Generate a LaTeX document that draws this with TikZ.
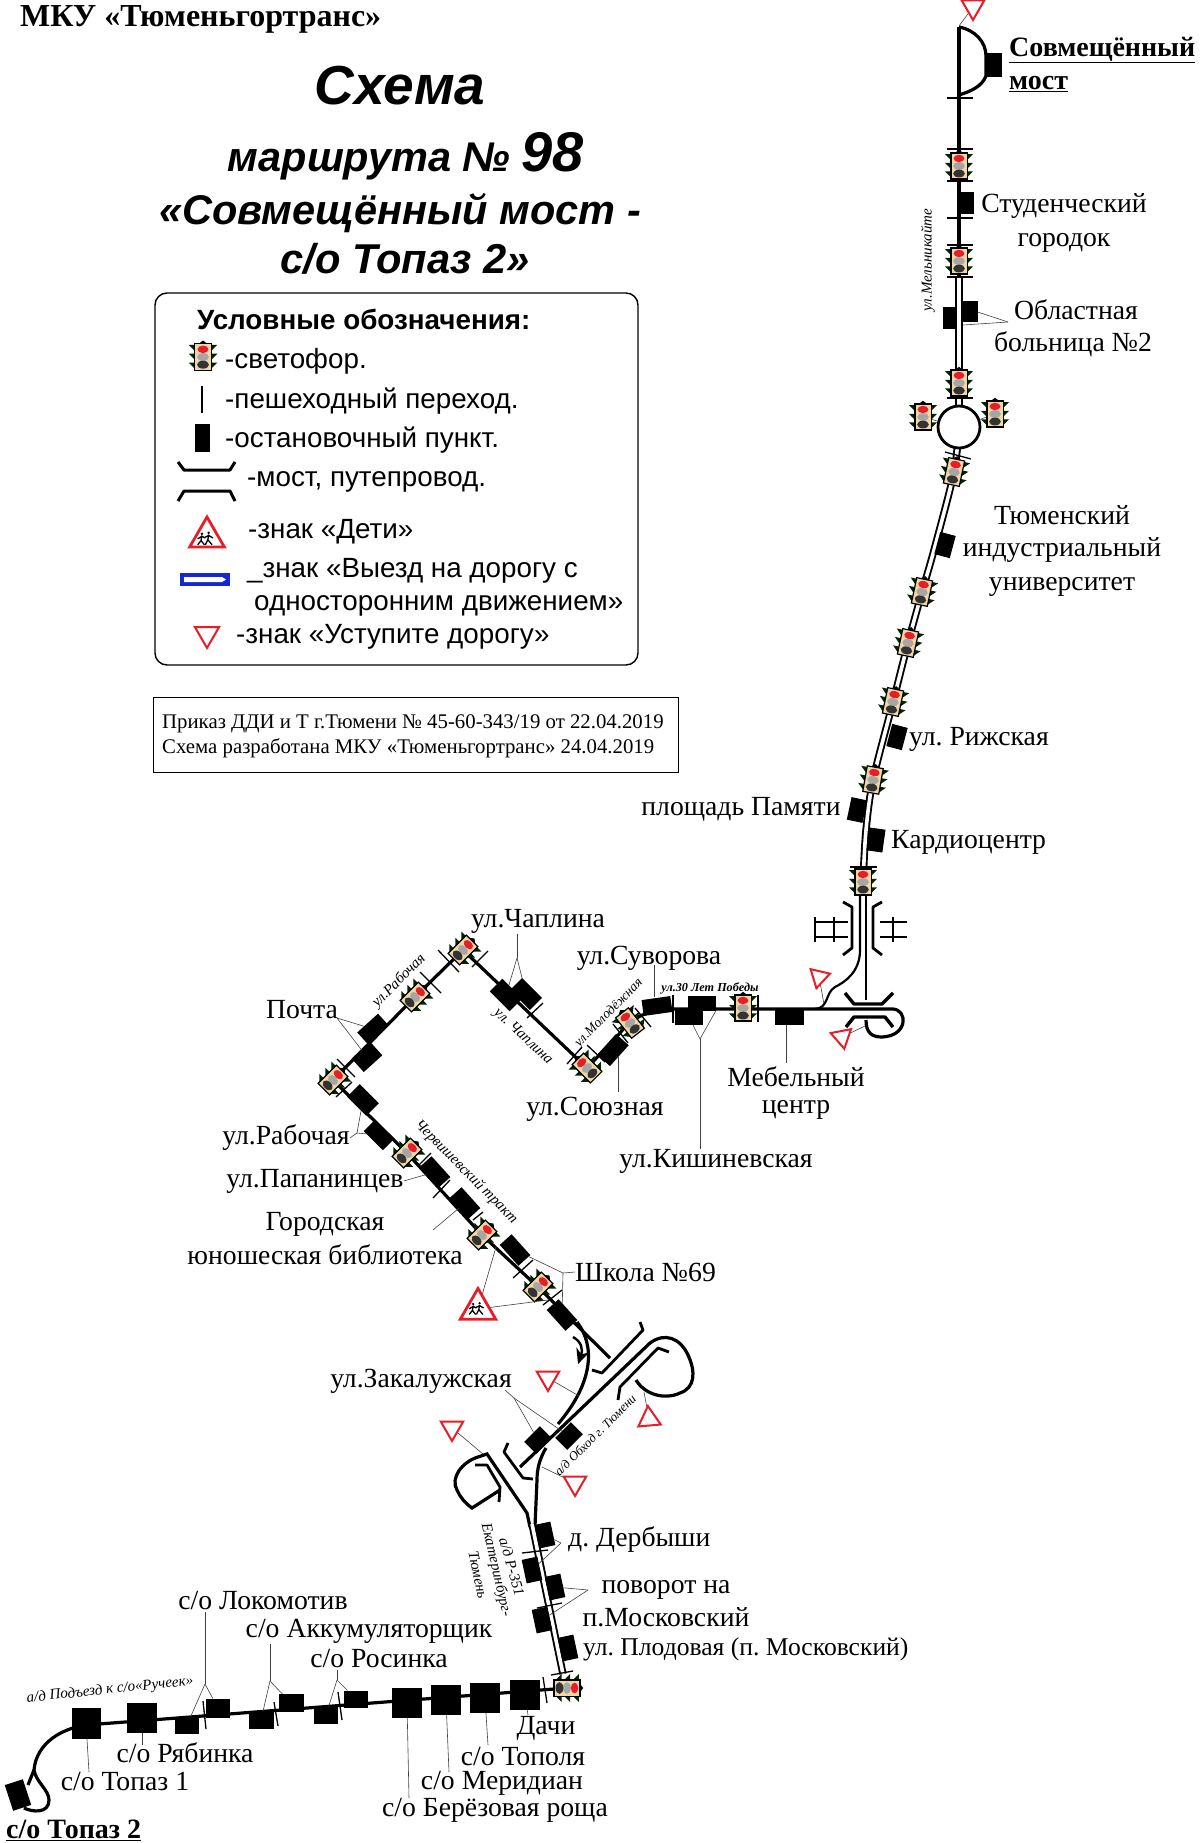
\documentclass[tikz,border=0pt]{standalone}
\usepackage{fontspec}
\setmainfont{Liberation Serif}
\newfontfamily\legendfont{Liberation Sans}
\frenchspacing
\usetikzlibrary{shapes.geometric, arrows.meta}
\definecolor{lampbody}{RGB}{240,215,165}
\definecolor{signred}{RGB}{230,30,40}
\definecolor{signblue}{RGB}{20,40,210}
\tikzstyle{road}=[line width=3.2pt]
\tikzstyle{thinroad}=[line width=2.2pt]
\tikzstyle{dblroad}=[line width=1.9pt, double, double distance=3.6pt]
\tikzstyle{brk}=[line width=2.8pt, line join=round]
\tikzstyle{tick}=[line width=1.3pt]
\tikzstyle{leader}=[line width=.6pt, black!75]
\tikzstyle{stopbox}=[fill=black, inner sep=0pt, outer sep=0pt]
\tikzstyle{lbl}=[inner sep=0pt, font=\fontsize{27.7}{30}\selectfont]
\tikzstyle{strt}=[inner sep=0pt, font=\itshape\fontsize{15}{15}\selectfont]
\tikzstyle{leg}=[inner sep=0pt, anchor=west, font=\legendfont\fontsize{27.8}{30}\selectfont]
\tikzstyle{yieldsign}=[regular polygon, regular polygon sides=3, draw=signred, fill=white, line width=2pt, inner sep=0pt, minimum size=26pt]
\tikzstyle{kidsign}=[regular polygon, regular polygon sides=3, draw=signred, fill=white, line width=2.8pt, inner sep=0pt, minimum size=40pt]
\tikzset{
  tlight/.pic={
    \fill[black!85!green] (-13,-11) -- (-6,-11) -- (-6,-4) -- cycle (13,-11) -- (6,-11) -- (6,-4) -- cycle
      (-13,-3) -- (-6,-3) -- (-6,4) -- cycle (13,-3) -- (6,-3) -- (6,4) -- cycle
      (-13,5) -- (-6,5) -- (-6,12) -- cycle (13,5) -- (6,5) -- (6,12) -- cycle;
    \draw[line width=1.2pt, fill=lampbody] (-7.5,-12) rectangle (7.5,12);
    \fill[black] (-4,-12) -- (0,-15) -- (4,-12) -- cycle;
    \fill[signred] (0,-7) ellipse (5 and 3.4);
    \fill[black!35] (0,0) ellipse (5.4 and 3.6);
    \fill[black!80] (0,7) ellipse (5.4 and 3.6);
  },
  kidfig/.pic={
    \fill (-6,-5) circle (1.6) (2,-6) circle (1.6);
    \draw[line width=1.3pt] (-6,-3) -- (-7,3) -- (-11,8) (-7,3) -- (-3,8) (-6,-2) -- (-11,1) (-6,-2) -- (-2,0)
      (2,-4) -- (1,2) -- (-2,8) (1,2) -- (6,8) (2,-3) -- (-2,-1) (2,-3) -- (7,0);
  }
}
\begin{document}
\begin{tikzpicture}[x=1pt, y=-1pt]
\useasboundingbox (0,0) rectangle (1200,1843);
% traffic lights
\foreach \nm/\px/\py in {ltA/959/166, ltB/959/261, ltC/959/383, ltE/923/417, ltF/995/414, ltG/954/472, ltH/922/592, ltI/908/643, ltJ/893/702, ltK/873/780, ltL/863/882}
  \coordinate (\nm) at (\px,\py);
\foreach \nm/\px/\py in {ltM/743/1008, ltN/630/1023, ltO/587/1068, ltP/463/950, ltQ/415/997, ltR/333/1080, ltS/407/1153, ltT/482/1235, ltU/538/1287, ltV/567/1688}
  \coordinate (\nm) at (\px,\py);
% roads
\draw[road] (959,27) -- (ltA) -- (ltB) -- (959,277);
\draw[road] (959,27) .. controls (975,30) and (986,42) .. (986,56) -- (986,76) .. controls (982,86) and (972,91) .. (959,95);
\draw[dblroad] (959,277) -- (959,425);
\draw[dblroad] plot[smooth, tension=.5] coordinates {(959,425) (ltG) (934,550) (ltH) (ltI) (ltJ) (ltK) (866,830) (ltL) (863,892)};
\draw[thinroad] (860,885) -- (860,950) .. controls (860,972) and (845,982) .. (835,987) .. controls (825,993) and (829,1008) .. (815,1009);
\draw[thinroad] (866,885) -- (866,1000);
\draw[road] (ltO) -- (620,1033) .. controls (630,1020) and (645,1010) .. (670,1009) -- (893,1009) .. controls (908,1010) and (908,1036) .. (882,1037) .. controls (872,1037) and (866,1033) .. (866,1020);
\draw[road] (ltO) -- (ltP) -- (ltQ) -- (ltR) -- (ltS) -- (ltT) -- (ltU) -- (610,1358);
\draw[road] (577,1322) .. controls (595,1345) and (594,1382) .. (558,1424);
\draw[road] (546,1448) .. controls (540,1458) and (537,1468) .. (537,1480) -- (535,1526);
\draw[road] (520,1467) -- (650,1343) .. controls (665,1332) and (680,1338) .. (688,1355) .. controls (696,1372) and (695,1388) .. (680,1393) .. controls (665,1400) and (645,1395) .. (636,1380);
\draw[road] (530,1527) -- (527,1513) -- (487,1454) -- (478,1457) .. controls (462,1462) and (450,1478) .. (457,1490) .. controls (460,1497) and (465,1503) .. (472,1508) -- (500,1490);
\draw[dblroad] (532,1524) -- (563,1674);
\draw[road] (ltV) -- (99,1724) .. controls (60,1725) and (36,1745) .. (34,1770) .. controls (36,1782) and (49,1790) .. (49,1800) .. controls (49,1814) and (32,1812) .. (24,1808);
\draw[road] (34,1770) -- (28,1785);
\node[circle, draw, fill=white, line width=2.8pt, minimum size=42pt, inner sep=0pt] (krug) at (959,427) {};
\draw[leader] (krug) -- (ltE);
\draw[leader] (krug) -- (ltF);
% overpass marks
\draw[brk] (843,902) -- (852,907) -- (852,948) -- (843,955);
\draw[brk] (882,902) -- (873,907) -- (873,948) -- (882,955);
\draw[brk] (815,917) -- (815,942) (815,922) -- (848,922) (815,937) -- (848,937) (834,917) -- (834,942);
\draw[brk] (880,922) -- (907,922) (880,937) -- (907,937) (893,917) -- (893,942);
\draw[brk, line width=3.4pt] (845,993) -- (854,1004) -- (882,1004) -- (893,993);
\draw[brk, line width=3.4pt] (846,1027) -- (854,1017) -- (885,1017) -- (893,1027);
\draw[brk] (640,1322) -- (643,1330) -- (602,1373) -- (592,1370);
\draw[brk] (669,1352) -- (658,1348) -- (620,1387) -- (618,1400);
\draw[brk] (508,1443) -- (504,1452) -- (523,1478) -- (533,1479);
\draw[brk] (475,1465) -- (487,1465) -- (500,1487) -- (499,1502);
% pedestrian crossings
\foreach \xa/\ya/\xb/\yb in {947/98/973/98, 947/149/973/149, 947/181/973/181, 947/218/973/218, 947/245/973/245, 947/277/973/277, 947/398/973/398, 945/452/971/459,
  850/867/877/867, 673/995/673/1023, 758/995/758/1022, 438/950/459/972, 472/967/488/951, 420/972/441/993, 527/1018/543/1003,
  567/1064/582/1047, 587/1045/605/1062, 613/1024/628/1043, 635/1008/651/1027, 337/1059/355/1077, 336/1097/352/1082, 419/1165/431/1153,
  433/1198/450/1180, 473/1220/483/1212, 513/1278/533/1260, 543/1305/562/1290, 522/1553/548/1550, 537/1608/562/1603, 551/1675/573/1671,
  203/1701/206/1729, 274/1702/278/1726, 338/1692/342/1720, 543/1677/547/1703}
  \draw[tick] (\xa,\ya) -- (\xb,\yb);
% stops
\foreach \nm/\px/\py/\w/\h/\r in {stTop/993/65/17/24/0, stStud/966/203/16/22/0, stOblA/950/318/14/21/0, stOblB/970/312/15/21/0,
  stTiu/945/545/16/23/-15, stRiga/897/737/16/23/-15, stPam/857/810/16/23/-12, stKard/876/840/16/23/-8, stMeb/789/1017/29/15/0,
  stSuv/657/1006/29/16/8, stKishA/689/1017/28/16/0, stKishB/702/1003/28/15/0, stSoyuz/613/1050/28/17/48,
  stChapA/506/995/28/18/-45, stChapB/526/994/28/17/-45, stPochA/373/1029/28/16/42, stPochB/367/1057/25/18/42,
  stRabA/363/1100/27/18/-45, stRabB/379/1135/27/16/-45, stPap/435/1172/28/16/-48, stBib/465/1203/28/16/-48,
  stSchA/515/1250/28/16/-48, stSchB/562/1315/28/16/-48, stZakA/538/1440/22/17/45, stZakB/569/1436/22/17/45,
  stDerb/545/1535/16/24/12, stPovA/532/1570/16/24/12, stPovB/555/1587/16/24/12, stPovC/542/1620/16/24/12, stPlod/568/1648/16/24/12,
  stDach/525/1695/30/30/0, stTop/485/1698/30/30/0, stMer/446/1700/30/30/0, stBer/407/1703/30/30/0,
  stRosA/326/1715/24/17/0, stRosB/356/1699/24/17/0, stAkkA/261/1720/25/17/0, stAkkB/291/1703/25/18/0,
  stLokA/187/1725/24/17/0, stLokB/218/1708/24/19/0, stRyab/142/1718/30/30/0, stTopA/86/1723/29/31/0, stTopB/18/1795/19/27/18}
  \node[stopbox, minimum width=\w, minimum height=\h, rotate=\r] (\nm) at (\px,\py) {};
% lights on top of the road
\foreach \nm/\r in {ltA/0, ltB/0, ltC/0, ltE/0, ltF/0, ltG/-12, ltH/-12, ltI/-12, ltJ/-12, ltK/-10, ltL/0, ltM/0, ltN/38, ltO/45, ltP/-45, ltQ/-45, ltR/-45, ltS/-45, ltT/-45, ltU/-45, ltV/-90}
  \pic[rotate=\r, scale=1.08] at (\nm) {tlight};
% heading
\node[inner sep=0pt, anchor=west, font=\bfseries\fontsize{32}{32}\selectfont] (org) at (20,19) {МКУ «Тюменьгортранс»};
\node[inner sep=0pt, font=\legendfont\bfseries\itshape\fontsize{55}{55}\selectfont] (ttlA) at (400,86) {Схема};
\node[inner sep=0pt, font=\legendfont\bfseries\itshape\fontsize{41.5}{41}\selectfont] (ttlB) at (406,156) {маршрута № {\fontsize{56}{56}\selectfont 98}};
\node[inner sep=0pt, font=\legendfont\bfseries\itshape\fontsize{41.5}{41}\selectfont] (ttlC) at (400,213) {«Совмещённый мост -};
\node[inner sep=0pt, font=\legendfont\bfseries\itshape\fontsize{41.7}{41}\selectfont] (ttlD) at (405,259) {с/о Топаз 2»};
% legend
\node[draw, rounded corners=12pt, line width=1.4pt, minimum width=483, minimum height=372, inner sep=0pt] (lgd) at (396.5,479) {};
\node[leg, font=\legendfont\bfseries\fontsize{27.8}{30}\selectfont] (lgA) at (197,319) {Условные обозначения:};
\coordinate (lgLt) at (203,357);
\pic[scale=1.1] at (lgLt) {tlight};
\node[leg] (lgB) at (225,361) {-светофор.};
\node[minimum width=1.4pt, minimum height=27pt, fill=black, inner sep=0pt] (lgPed) at (202,399) {};
\node[leg] (lgC) at (225,401) {-пешеходный переход.};
\node[stopbox, minimum width=15, minimum height=28] (lgStop) at (202,438) {};
\node[leg] (lgD) at (225,440) {-остановочный пункт.};
\draw[brk, line width=3pt] (178,462) -- (184,470) -- (230,470) -- (235,462);
\draw[brk, line width=3pt] (178,501) -- (184,491) -- (230,491) -- (235,501);
\node[leg] (lgE) at (247,482) {-мост, путепровод.};
\node[kidsign] (lgKid) at (207,537) {};
\pic[scale=.85] at (207,538) {kidfig};
\node[leg] (lgF) at (248,532) {-знак «Дети»};
\fill[signblue] (180,573) rectangle (230,586);
\fill[white] (184,577) -- (222,577) -- (226,579.5) -- (222,582) -- (184,582) -- cycle;
\node[leg] (lgG) at (247,571) {\_знак «Выезд на дорогу с};
\node[leg] (lgH) at (254,606) {односторонним движением»};
\node[yieldsign, minimum size=28pt, shape border rotate=180] (lgYield) at (207,634) {};
\node[leg] (lgI) at (236,637) {-знак «Уступите дорогу»};
\node[draw, line width=1.2pt, minimum width=525, minimum height=75, inner sep=0pt] (ord) at (416,735) {};
\node[inner sep=0pt, anchor=west, font=\fontsize{20.8}{20}\selectfont] (ordA) at (162,724) {Приказ ДДИ и Т г.Тюмени № 45-60-343/19 от 22.04.2019};
\node[inner sep=0pt, anchor=west, font=\fontsize{20.8}{20}\selectfont] (ordB) at (162,748) {Схема разработана МКУ «Тюменьгортранс» 24.04.2019};
% road signs
\node[yieldsign, shape border rotate=180] (yA) at (973,7) {};
\node[yieldsign, minimum size=23pt, shape border rotate=167] (yB) at (819,977) {};
\node[yieldsign, minimum size=24pt, shape border rotate=191] (yC) at (842,1037) {};
\node[yieldsign, shape border rotate=180] (yD) at (548,1378) {};
\node[yieldsign, shape border rotate=180] (yE) at (452,1428) {};
\node[yieldsign, shape border rotate=180] (yF) at (575,1483) {};
\node[yieldsign, shape border rotate=5] (yG) at (649,1419) {};
\node[kidsign, minimum size=41pt] (kdA) at (478,1309) {};
\pic[scale=.8] at (478,1308) {kidfig};
\foreach \nm/\px/\py in {rdA/959/26, rdB/824/1004, rdC/865/1026, rdD/579/1396, rdE/483/1454, rdF/542/1467, rdG/644/1392, rdH/496/1247, rdI/548/1300}
  \coordinate (\nm) at (\px,\py);
\draw[leader] (yA) -- (rdA);
\draw[leader] (yB) -- (rdB);
\draw[leader] (yC) -- (rdC);
\draw[leader] (yD) -- (rdD);
\draw[leader] (yE) -- (rdE);
\draw[leader] (yF) -- (rdF);
\draw[leader] (yG) -- (rdG);
\draw[leader] (kdA) -- (rdH);
\draw[leader] (kdA) -- (rdI);
% arrow of the turn
\draw[line width=2.4pt, -{Stealth[length=15pt, width=14pt]}] (573,1337) .. controls (582,1342) and (583,1350) .. (578,1364);
% stop names
\node[lbl, anchor=west, font=\bfseries\fontsize{28}{30}\selectfont] (tTopA) at (1009,50) {\underline{Совмещённый}};
\node[lbl, anchor=west, font=\bfseries\fontsize{28}{30}\selectfont] (tTopB) at (1009,84) {\underline{мост}};
\node[lbl] (tStudA) at (1064,206) {Студенческий};
\node[lbl] (tStudB) at (1064,243) {городок};
\node[lbl] (tOblA) at (1076,310) {Областная};
\node[lbl] (tOblB) at (1073,344) {больница №2};
\coordinate (fkObl) at (1008,322);
\draw[leader] (fkObl) -- (stOblB.east);
\draw[leader] (fkObl) -- (963,325);
\node[lbl] (tTiuA) at (1062,515) {Тюменский};
\node[lbl] (tTiuB) at (1062,550) {индустриальный};
\node[lbl] (tTiuC) at (1062,587) {университет};
\node[lbl, anchor=west] (tRiga) at (909,739) {ул. Рижская};
\node[lbl] (tPam) at (741,809) {площадь Памяти};
\node[lbl, anchor=west] (tKard) at (891,842) {Кардиоцентр};
\node[lbl] (tMebA) at (796,1077) {Мебельный};
\node[lbl] (tMebB) at (796,1110) {центр};
\coordinate (fkMeb) at (786,1063);
\draw[leader] (stMeb.south -| fkMeb) -- (fkMeb);
\node[lbl] (tSuv) at (649,958) {ул.Суворова};
\draw[leader] (654,965) -- (654,997);
\node[lbl] (tKish) at (716,1161) {ул.Кишиневская};
\coordinate (fkKish) at (700,1039);
\draw[leader] (tKish.north -| fkKish) -- (fkKish);
\draw[leader] (fkKish) -- (stKishA);
\draw[leader] (fkKish) -- (stKishB.south east);
\node[lbl] (tSoyuz) at (595,1109) {ул.Союзная};
\draw[leader] (618,1057) -- (618,1092);
\node[lbl] (tChap) at (538,921) {ул.Чаплина};
\coordinate (fkChap) at (517,958);
\draw[leader] (517,934) -- (fkChap);
\draw[leader] (fkChap) -- (stChapA);
\draw[leader] (fkChap) -- (stChapB);
\node[lbl] (tPoch) at (302,1010) {Почта};
\coordinate (fkPoch) at (337,1018);
\draw[leader] (fkPoch) -- (stPochA);
\draw[leader] (fkPoch) -- (stPochB);
\node[lbl] (tRab) at (286,1138) {ул.Рабочая};
\coordinate (fkRab) at (357,1133);
\draw[leader] (tRab.east) -- (fkRab);
\draw[leader] (fkRab) -- (stRabA);
\draw[leader] (fkRab) -- (stRabB);
\node[lbl] (tPap) at (315,1181) {ул.Папанинцев};
\draw[leader] (tPap.east) -- (stPap);
\node[lbl] (tBibA) at (325,1224) {Городская};
\node[lbl] (tBibB) at (325,1255) {юношеская библиотека};
\coordinate (fkBib) at (433,1230);
\draw[leader] (fkBib) -- (stBib);
\node[lbl, anchor=west] (tSch) at (575,1272) {Школа №69};
\coordinate (fkSch) at (563,1273);
\draw[leader] (tSch.west) -- (fkSch);
\draw[leader] (fkSch) -- (stSchA);
\draw[leader] (fkSch) -- (stSchB);
\node[lbl] (tZak) at (421,1381) {ул.Закалужская};
\coordinate (fkZak) at (514,1398);
\draw[leader] (505,1390) -- (fkZak);
\draw[leader] (fkZak) -- (stZakA);
\draw[leader] (fkZak) -- (stZakB);
\node[lbl, anchor=west] (tDerb) at (568,1540) {д. Дербыши};
\coordinate (fkDerb) at (561,1543);
\draw[leader] (fkDerb) -- (stDerb);
\draw[leader] (fkDerb) -- (stPovA);
\node[lbl] (tPovA) at (666,1590) {поворот на};
\node[lbl] (tPovB) at (666,1617) {п.Московский};
\coordinate (fkPov) at (588,1590);
\draw[leader] (fkPov) -- (stPovB);
\draw[leader] (fkPov) -- (stPovC);
\node[lbl, anchor=west, font=\fontsize{25.6}{30}\selectfont] (tPlod) at (583,1649) {ул. Плодовая (п. Московский)};
\node[lbl] (tLok) at (263,1600) {с/о Локомотив};
\coordinate (fkLok) at (205,1684);
\draw[leader] (205,1612) -- (fkLok);
\draw[leader] (fkLok) -- (stLokA);
\draw[leader] (fkLok) -- (stLokB);
\node[lbl] (tAkk) at (369,1631) {с/о Аккумуляторщик};
\coordinate (fkAkk) at (270,1681);
\draw[leader] (270,1644) -- (fkAkk);
\draw[leader] (fkAkk) -- (stAkkA);
\draw[leader] (fkAkk) -- (stAkkB);
\node[lbl] (tRos) at (379,1658) {с/о Росинка};
\coordinate (fkRos) at (337,1680);
\draw[leader] (337,1670) -- (fkRos);
\draw[leader] (fkRos) -- (stRosA);
\draw[leader] (fkRos) -- (stRosB);
\node[lbl] (tRyab) at (185,1753) {с/о Рябинка};
\draw[leader] (stRyab) -- (142,1745);
\node[lbl] (tTopaz) at (125,1781) {с/о Топаз 1};
\draw[leader] (stTopA) -- (89,1772);
\node[lbl] (tDach) at (546,1728) {Дачи};
\draw[leader] (stDach) -- (528,1715);
\node[lbl] (tTopol) at (523,1756) {с/о Тополя};
\draw[leader] (stTop) -- (488,1745);
\node[lbl] (tMer) at (502,1783) {с/о Меридиан};
\draw[leader] (stMer) -- (449,1772);
\node[lbl] (tBer) at (495,1810) {с/о Берёзовая роща};
\draw[leader] (stBer) -- (409,1798);
\node[lbl, anchor=west, font=\bfseries\fontsize{28}{30}\selectfont] (tEnd) at (6,1830) {\underline{с/о Топаз 2}};
% street names
\node[strt, rotate=90] (snA) at (928,260) {ул.Мельникайте};
\node[strt, rotate=-43] (snB) at (523,1037) {ул. Чаплина};
\node[strt, rotate=45] (snC) at (399,981) {ул.Рабочая};
\node[strt, rotate=45, font=\itshape\fontsize{13.5}{13}\selectfont] (snD) at (609,1013) {ул.Молодёжная};
\node[strt, font=\bfseries\itshape\fontsize{12.2}{12}\selectfont] (snE) at (710,988) {ул.30 Лет Победы};
\node[strt, rotate=-45] (snF) at (466,1172) {Червишевский тракт};
\node[strt, rotate=45, font=\itshape\fontsize{12.8}{12}\selectfont] (snG) at (595,1435) {а/д Обход г. Тюмени};
\node[strt, rotate=-74] (snH) at (512,1567) {а/д Р-351};
\node[strt, rotate=-77] (snI) at (496,1570) {Екатеринбург-};
\node[strt, rotate=-78] (snJ) at (478,1575) {Тюмень};
\node[strt, rotate=6] (snK) at (110,1690) {а/д Подъезд к с/о«Ручеек»};
\end{tikzpicture}
\end{document}
